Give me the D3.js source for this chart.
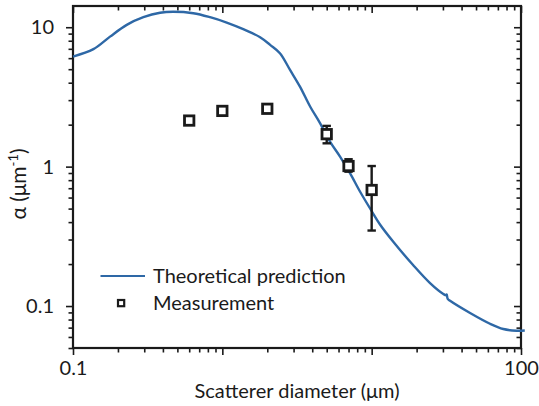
<!DOCTYPE html>
<html>
<head>
<meta charset="utf-8">
<script src="https://cdn.jsdelivr.net/npm/d3@7"></script>
<style>
  html, body { margin: 0; padding: 0; background: #fff; }
  svg { display: block; font-family: "Lato", "Open Sans", sans-serif; }
</style>
</head>
<body>
<svg id="chart" width="539" height="406"></svg>
<script>
// Theoretical attenuation coefficient vs. scatterer diameter
const theoryD = [0.1, 0.137, 0.177, 0.229, 0.296, 0.383, 0.469, 0.639, 0.827, 1.07,
                 1.38, 1.79, 2.09, 2.43, 2.84, 3.31, 3.87, 4.51, 5.26, 6.14,
                 7.16, 8.35, 10.0, 11.4, 14.0, 19.0, 24.6, 30.2, 31.5, 31.8,
                 32.3, 33.5, 45.6, 62.0, 76.1, 93.6, 106];
const theoryAlpha = [6.16, 6.96, 8.56, 10.4, 11.8, 12.7, 12.9, 12.6, 11.8, 10.8,
                     9.68, 8.48, 7.47, 6.51, 4.94, 3.75, 2.70, 2.05, 1.51, 1.18,
                     0.898, 0.663, 0.48, 0.383, 0.288, 0.196, 0.146, 0.122, 0.1195, 0.121,
                     0.1125, 0.109, 0.0891, 0.0746, 0.0684, 0.0665, 0.0667];

// Measured values with error ranges
const measD = [0.6, 1, 2, 5, 7, 10];
const measAlpha = [2.14, 2.51, 2.60, 1.71, 1.01, 0.68];
const measLow = [2.10, 2.48, 2.57, 1.47, 0.92, 0.348];
const measHigh = [2.18, 2.54, 2.63, 1.96, 1.13, 1.01];

// Axis ticks
const xMajor = [0.1, 1, 10, 100];
const xLabels = ["0.1", "", "", "100"];
const yMajor = [0.1, 1, 10];
const yLabels = ["0.1", "1", "10"];
const xLabel = "Scatterer diameter (μm)";
const legendLabels = ["Theoretical prediction", "Measurement"];

const plotL = 73, plotR = 521, plotT = 6, plotB = 348;
const blue = "#2e68a6";
const ink = "#1a1a1a";

const svg = d3.select("#chart");

const x = d3.scaleLog().domain([0.1, 100]).range([plotL, plotR]);
const y = d3.scaleLog().domain([0.05, 14.2]).range([plotB, plotT]);

function minorTicks(scale) {
  const [a, b] = scale.domain();
  const out = [];
  for (let e = Math.floor(Math.log10(a)); e <= Math.ceil(Math.log10(b)); e++) {
    for (let m = 2; m <= 9; m++) {
      const v = m * Math.pow(10, e);
      if (v >= a * 0.999 && v <= b * 1.001) out.push(v);
    }
  }
  return out;
}
const xMinor = minorTicks(x);
const yMinor = minorTicks(y);

function styleAxis(g) {
  g.select(".domain").remove();
  g.selectAll(".tick line").attr("stroke", ink).attr("stroke-width", 1.6);
  g.selectAll(".tick text").attr("fill", ink).attr("font-size", 20)
    .attr("font-family", "Lato, 'Open Sans', sans-serif");
}

// bottom axis (outward ticks)
svg.append("g").attr("transform", `translate(0,${plotB})`)
  .call(d3.axisBottom(x).tickValues(xMajor).tickSize(7).tickPadding(6)
    .tickFormat((d, i) => xLabels[i]))
  .call(styleAxis);
svg.append("g").attr("transform", `translate(0,${plotB})`)
  .call(d3.axisBottom(x).tickValues(xMinor).tickSize(4.5).tickFormat(""))
  .call(styleAxis);

// top axis (inward ticks)
svg.append("g").attr("transform", `translate(0,${plotT})`)
  .call(d3.axisBottom(x).tickValues(xMajor).tickSize(7).tickFormat(""))
  .call(styleAxis);
svg.append("g").attr("transform", `translate(0,${plotT})`)
  .call(d3.axisBottom(x).tickValues(xMinor).tickSize(4.5).tickFormat(""))
  .call(styleAxis);

// left axis (outward ticks)
svg.append("g").attr("transform", `translate(${plotL},0)`)
  .call(d3.axisLeft(y).tickValues(yMajor).tickSize(7).tickPadding(12)
    .tickFormat((d, i) => yLabels[i]))
  .call(styleAxis);
svg.append("g").attr("transform", `translate(${plotL},0)`)
  .call(d3.axisLeft(y).tickValues(yMinor).tickSize(4.5).tickFormat(""))
  .call(styleAxis);

// right axis (inward ticks)
svg.append("g").attr("transform", `translate(${plotR},0)`)
  .call(d3.axisLeft(y).tickValues(yMajor).tickSize(7).tickFormat(""))
  .call(styleAxis);
svg.append("g").attr("transform", `translate(${plotR},0)`)
  .call(d3.axisLeft(y).tickValues(yMinor).tickSize(4.5).tickFormat(""))
  .call(styleAxis);

// frame
svg.append("rect")
  .attr("x", plotL).attr("y", plotT)
  .attr("width", plotR - plotL).attr("height", plotB - plotT)
  .attr("fill", "none").attr("stroke", ink).attr("stroke-width", 2.2);

// theory curve
const line = d3.line()
  .x((d, i) => x(theoryD[i]))
  .y(d => y(d))
  .curve(d3.curveCatmullRom.alpha(0.5));
svg.append("path")
  .attr("d", line(theoryAlpha))
  .attr("fill", "none")
  .attr("stroke", blue)
  .attr("stroke-width", 2.4)
  .attr("stroke-linejoin", "round");

// error bars
const eb = svg.append("g").attr("stroke", ink).attr("stroke-width", 2.4);
measD.forEach((d, i) => {
  const cx = x(d);
  eb.append("line").attr("x1", cx).attr("x2", cx)
    .attr("y1", y(measLow[i])).attr("y2", y(measHigh[i]));
  [measLow[i], measHigh[i]].forEach(v => {
    eb.append("line").attr("x1", cx - 4.2).attr("x2", cx + 4.2)
      .attr("y1", y(v)).attr("y2", y(v));
  });
});

// measurement markers
svg.append("g").selectAll("rect")
  .data(measAlpha)
  .join("rect")
  .attr("x", (d, i) => x(measD[i]) - 4.7)
  .attr("y", d => y(d) - 4.7)
  .attr("width", 9.4).attr("height", 9.4)
  .attr("fill", "#fff").attr("stroke", ink).attr("stroke-width", 2.8);

// legend
const lg = svg.append("g");
lg.append("line").attr("x1", 100.5).attr("x2", 145).attr("y1", 276).attr("y2", 276)
  .attr("stroke", blue).attr("stroke-width", 2);
lg.append("text").attr("x", 153).attr("y", 276).attr("dy", "0.35em")
  .attr("font-size", 20).attr("fill", ink).text(legendLabels[0]);
lg.append("rect").attr("x", 118).attr("y", 300).attr("width", 6.2).attr("height", 6.2)
  .attr("fill", "#fff").attr("stroke", ink).attr("stroke-width", 2.2);
lg.append("text").attr("x", 153).attr("y", 303).attr("dy", "0.35em")
  .attr("font-size", 20).attr("fill", ink).text(legendLabels[1]);

// axis titles
svg.append("text").attr("x", (plotL + plotR) / 2).attr("y", 398)
  .attr("text-anchor", "middle").attr("font-size", 20).attr("fill", ink)
  .text(xLabel);

const yt = svg.append("text")
  .attr("transform", "translate(26,184) rotate(-90)")
  .attr("text-anchor", "middle").attr("font-size", 21).attr("fill", ink);
yt.append("tspan").text("α (μm");
yt.append("tspan").attr("font-size", 13).attr("dy", -8).text("-1");
yt.append("tspan").attr("dy", 8).text(")");
</script>
</body>
</html>
